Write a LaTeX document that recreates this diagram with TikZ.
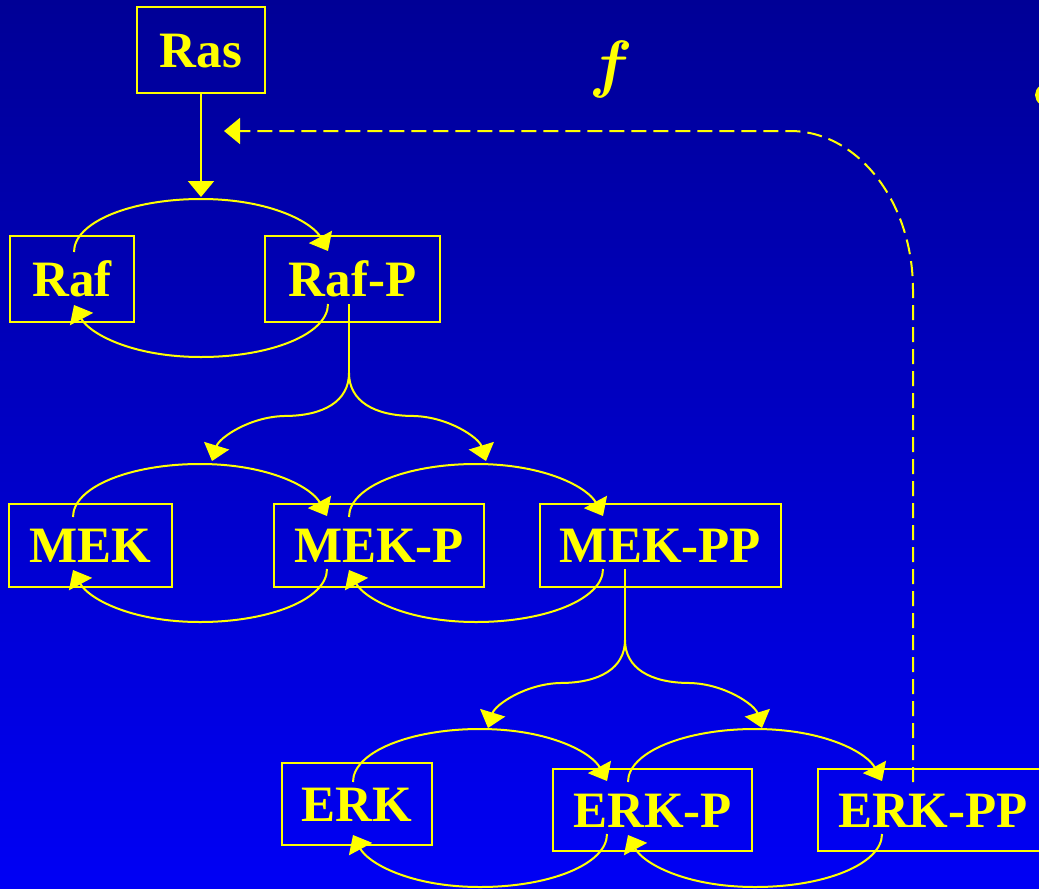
\documentclass[tikz,border=0pt]{standalone}
\usepackage{bm}
\usepackage{graphicx}
\usepackage{fontspec}
\setmainfont{Liberation Serif}
\usetikzlibrary{arrows.meta,calc}
\definecolor{bgtop}{RGB}{0,0,150}
\definecolor{bgbot}{RGB}{0,0,245}
\definecolor{ylw}{RGB}{255,255,0}
\tikzset{
  box/.style={draw=ylw, line width=2.5pt, inner sep=0pt, text=ylw,
    font=\fontsize{51}{60}\selectfont\bfseries, text height=34pt, text depth=0pt},
  link/.style={draw=ylw, line width=2pt, -{Triangle[length=16pt,width=26pt]}},
  plain/.style={draw=ylw, line width=2pt},
  feedback/.style={draw=ylw, line width=2pt, dash pattern=on 15pt off 7pt,
    -{Triangle[length=16pt,width=26pt]}},
}
\newcommand\kincycle[1]{%
  \draw[link] ($(#1)+(-127,-26)$) .. controls ($(#1)+(-127,-56)$) and ($(#1)+(-70,-79)$) .. ($(#1)+(0,-79)$)
     .. controls ($(#1)+(70,-79)$) and ($(#1)+(112,-55)$) .. ($(#1)+(127,-27)$);
  \draw[link] ($(#1)+(127,26)$) .. controls ($(#1)+(127,56)$) and ($(#1)+(70,79)$) .. ($(#1)+(0,79)$)
     .. controls ($(#1)+(-70,79)$) and ($(#1)+(-112,55)$) .. ($(#1)+(-127,27)$);
}
\newcommand\kinbranch[2]{%
  \draw[link] (#1) .. controls ($(#1)+(0,28)$) and ($(#1)+(#2*25,43)$) .. ($(#1)+(#2*65,43)$)
     .. controls ($(#1)+(#2*100,44)$) and ($(#1)+(#2*130,65)$) .. ($(#1)+(#2*137,88)$);
}
\begin{document}
\begin{tikzpicture}[x=1pt,y=-1pt]
\useasboundingbox (0,0) rectangle (1039,889);
\shade[top color=bgtop,bottom color=bgbot] (0,0) rectangle (1039,889);

% boxes
\node[box, minimum width=128pt, minimum height=86pt] (ras)   at (201,50)    {Ras};
\node[box, minimum width=124pt, minimum height=86pt] (raf)   at (72,279)    {Raf};
\node[box, minimum width=175pt, minimum height=86pt] (rafp)  at (352.5,279) {Raf-P};
\node[box, minimum width=163pt, minimum height=83pt] (mek)   at (90.5,545.5) {MEK};
\node[box, minimum width=210pt, minimum height=83pt] (mekp)  at (379,545.5) {MEK-P};
\node[box, minimum width=241pt, minimum height=83pt] (mekpp) at (660.5,545.5) {MEK-PP};
\node[box, minimum width=150pt, minimum height=82pt] (erk)   at (357,804)   {ERK};
\node[box, minimum width=199pt, minimum height=82pt] (erkp)  at (652.5,810) {ERK-P};
\node[box, minimum width=230pt, minimum height=82pt] (erkpp) at (933,810)   {ERK-PP};

% label f
\node[text=ylw, font=\fontsize{10}{10}\selectfont, anchor=base, inner sep=0pt] (flabel) at (611,85) {\scalebox{6.4}{$\bm{f}$}};
% partial glyph at right edge
\fill[ylw] (1052,95) ellipse [x radius=17pt, y radius=13pt];

% cycle centres
\coordinate (c1) at (201,278);
\coordinate (c2) at (200,543);
\coordinate (c3) at (476,543);
\coordinate (c4) at (480,808);
\coordinate (c5) at (755,808);
\kincycle{c1}
\kincycle{c2}
\kincycle{c3}
\kincycle{c4}
\kincycle{c5}

% Ras activation
\draw[link] (ras.south) -- ($(c1)+(0,-81)$);

% Raf-P splits to MEK cycles
\coordinate (s1) at (349,373);
\draw[plain] ($(rafp.center)+(-3.5,25)$) -- (s1);
\kinbranch{s1}{-1}
\kinbranch{s1}{1}

% MEK-PP splits to ERK cycles
\coordinate (s2) at (625,640);
\draw[plain] ($(mekpp.center)+(-35.5,23.5)$) -- (s2);
\kinbranch{s2}{-1}
\kinbranch{s2}{1}

% feedback
\coordinate (fb) at (224,131);
\draw[feedback] ($(erkpp.center)+(-20,-28)$) -- (913,290)
   .. controls (913,202) and (858,131) .. (790,131) -- (fb);
\end{tikzpicture}
\end{document}
